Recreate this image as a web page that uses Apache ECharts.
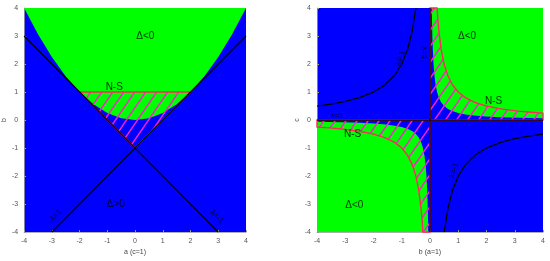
<!DOCTYPE html>
<html>
<head>
<meta charset="utf-8">
<script src="https://cdn.jsdelivr.net/npm/echarts@6/dist/echarts.min.js"></script>
<style>
  html, body { margin: 0; padding: 0; background: #fff; }
  #main { width: 550px; height: 261px; }
</style>
</head>
<body>
<div id="main"></div>
<script>
// ---- left panel: a (c=1) vs b ----
var parabA = [-4, -3.5, -3, -2.5, -2, -1.5, -1, -0.5, 0, 0.5, 1, 1.5, 2, 2.5, 3, 3.5, 4];
var parabB = [4, 3.06, 2.25, 1.56, 1, 0.56, 0.25, 0.06, 0, 0.06, 0.25, 0.56, 1, 1.56, 2.25, 3.06, 4];
var nsLeftA = [-2, 2, 0];
var nsLeftB = [1, 1, -1];
var lam1A = [-3, 4], lam1B = [-4, 3];
var lamM1A = [-4, 3], lamM1B = [3, -4];

// ---- right panel: b (a=1) vs c ----
var greenB = [0.0625, 0.07, 0.08, 0.1, 0.125, 0.16, 0.2, 0.25, 0.3125, 0.4, 0.5, 0.625, 0.78, 1, 1.25, 1.5625, 2, 2.5, 3.125, 3.57, 4];
var greenC = [4, 3.57, 3.125, 2.5, 2, 1.5625, 1.25, 1, 0.8, 0.625, 0.5, 0.4, 0.32, 0.25, 0.2, 0.16, 0.125, 0.1, 0.08, 0.07, 0.0625];
var nsB = [0.25, 0.28, 0.32, 0.4, 0.5, 0.625, 0.8, 1, 1.25, 1.6, 2, 2.5, 3.125, 3.57, 4];
var nsC = [4, 3.57, 3.125, 2.5, 2, 1.6, 1.25, 1, 0.8, 0.625, 0.5, 0.4, 0.32, 0.28, 0.25];
var lamB = [-4, -3.5, -3, -2.5, -2, -1.6, -1.25, -1, -0.8, -0.64, -0.5];
var lamC = [0.5, 0.571, 0.667, 0.8, 1, 1.25, 1.6, 2, 2.5, 3.125, 4];

// text notes: [text, x, y, rotate, size]
var leftNotes = [
  ["Δ<0", 0.37, 2.98, 0, 10],
  ["N-S", -0.75, 1.17, 0, 10],
  ["Δ>0", -0.7, -3.0, 0, 10],
  ["λ=1", -2.85, -3.4, 45, 8],
  ["λ=-1", 2.95, -3.45, -45, 8]
];
var rightNotes = [
  ["Δ<0", 1.31, 2.98, 0, 10],
  ["N-S", 2.25, 0.68, 0, 10],
  ["N-S", -2.74, -0.5, 0, 10],
  ["Δ<0", -2.68, -3.03, 0, 10],
  ["λ=1", -3.29, 0.16, 0, 8],
  ["λ=1", -0.2, 2.4, -90, 8],
  ["λ=-1", -1.05, 2.2, 72, 8],
  ["λ=-1", 0.85, -1.8, 72, 8]
];

function zip(xs, ys) {
  return xs.map(function (x, i) { return [x, ys[i]]; });
}
function neg(pts) {
  return pts.map(function (p) { return [-p[0], -p[1]]; });
}

// diagonal hatch pattern
var tile = document.createElement("canvas");
tile.width = 11;
tile.height = 16;
var ctx = tile.getContext("2d");
ctx.strokeStyle = "#ff1ed2";
ctx.lineWidth = 1.4;
[-11, 0, 11].forEach(function (dx) {
  ctx.beginPath();
  ctx.moveTo(dx - 11, 32);
  ctx.lineTo(dx + 22, -16);
  ctx.stroke();
});
var hatch = { image: tile, repeat: "repeat" };

function poly(gi, pts, fill, stroke, lw) {
  return {
    type: "custom",
    xAxisIndex: gi,
    yAxisIndex: gi,
    silent: true,
    data: pts,
    renderItem: function (params, api) {
      if (params.dataIndex !== 0) return null;
      return {
        type: "polygon",
        shape: { points: pts.map(function (p) { return api.coord(p); }) },
        style: { fill: fill, stroke: stroke || null, lineWidth: lw || 0 }
      };
    }
  };
}
function curve(gi, pts, color, w) {
  return {
    type: "line",
    xAxisIndex: gi,
    yAxisIndex: gi,
    data: pts,
    showSymbol: false,
    silent: true,
    lineStyle: { color: color, width: w }
  };
}
function notes(gi, list) {
  return {
    type: "scatter",
    xAxisIndex: gi,
    yAxisIndex: gi,
    symbolSize: 0,
    silent: true,
    data: list.map(function (n) {
      return {
        value: [n[1], n[2]],
        label: { show: true, position: "inside", formatter: n[0], rotate: n[3], fontSize: n[4] }
      };
    }),
    label: { color: "#000", fontFamily: "Liberation Sans" }
  };
}
function axis(gi, name, margin) {
  return {
    type: "value", gridIndex: gi, min: -4, max: 4, interval: 1,
    name: name, nameLocation: "middle", nameGap: 13,
    nameTextStyle: { fontSize: 7, color: "#444" },
    axisLine: { onZero: false, lineStyle: { color: "#999", width: 0.8 } },
    axisTick: { inside: true, length: 2, lineStyle: { color: "#999" } },
    axisLabel: { fontSize: 7, color: "#555", margin: margin },
    splitLine: { show: false }
  };
}

var nsQ1 = [[0, 0], [0, 4]].concat(zip(nsB, nsC)).concat([[4, 0]]);
var greenQ1 = zip(greenB, greenC).concat([[4, 4]]);
var lamQ2 = zip(lamB, lamC);

var chart = echarts.init(document.getElementById("main"));
chart.setOption({
  animation: false,
  grid: [
    { left: 20, top: 8, width: 226, height: 230, show: true, backgroundColor: "#0000ff", borderWidth: 0 },
    { left: 317, top: 8, width: 226, height: 230, show: true, backgroundColor: "#0000ff", borderWidth: 0 }
  ],
  xAxis: [axis(0, "a (c=1)", 5), axis(1, "b (a=1)", 5)],
  yAxis: [axis(0, "b", 6), axis(1, "c", 6)],
  series: [
    // left
    poly(0, zip(parabA, parabB).concat([[4, 4]]), "#00ff00"),
    poly(0, zip(nsLeftA, nsLeftB), hatch, "#ff2a5a", 1.4),
    curve(0, zip(lam1A, lam1B), "#000", 1.3),
    curve(0, zip(lamM1A, lamM1B), "#000", 1.3),
    notes(0, leftNotes),
    // right
    poly(1, greenQ1, "#00ff00"),
    poly(1, neg(greenQ1), "#00ff00"),
    poly(1, nsQ1, hatch, "#ff2a5a", 1.4),
    poly(1, neg(nsQ1), hatch, "#ff2a5a", 1.4),
    curve(1, lamQ2, "#000", 1.3),
    curve(1, neg(lamQ2), "#000", 1.3),
    curve(1, [[0, -4], [0, 4]], "#000", 1.3),
    curve(1, [[-4, 0], [4, 0]], "#000", 1.3),
    notes(1, rightNotes)
  ]
});
</script>
</body>
</html>
